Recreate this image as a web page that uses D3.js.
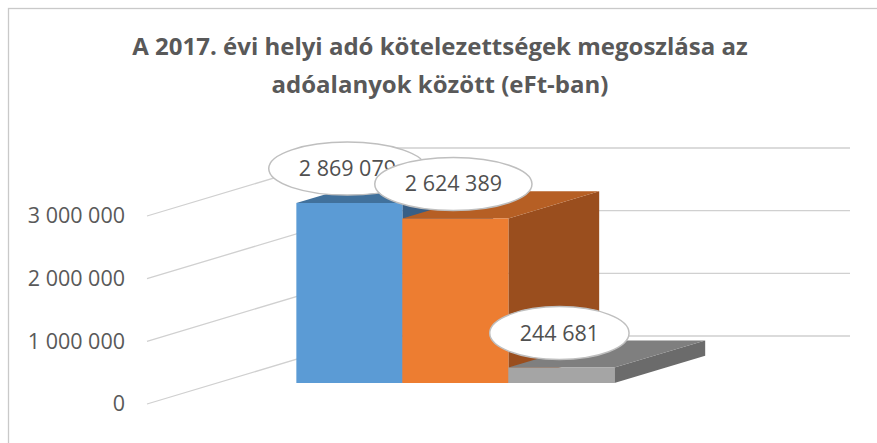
<!DOCTYPE html>
<html>
<head>
<meta charset="utf-8">
<script src="https://cdn.jsdelivr.net/npm/d3@7"></script>
<style>
  html, body { margin: 0; padding: 0; background: #fff; }
  svg { display: block; font-family: 'Open Sans', 'Noto Sans', sans-serif; }
</style>
</head>
<body>
<svg id="chart" width="877" height="443"></svg>
<script>
const titleLines = ['A 2017. évi helyi adó kötelezettségek megoszlása az', 'adóalanyok között (eFt-ban)']
const seriesNames = ['Sorozat1', 'Sorozat2', 'Sorozat3']
const seriesValues = [2869079, 2624389, 244681]
const tickValues = [0, 1000000, 2000000, 3000000]
const frontColors = ['#5B9BD5', '#ED7D31', '#A5A5A5']
const topColors = ['#41719C', '#B65F24', '#7F7F7F']
const sideColors = ['#385F86', '#9A4E1E', '#6B6B6B']

const svg = d3.select('#chart')
const width = 877
const height = 443

// oblique 3d: floor front-left corner, plot width, depth vector
const floor = {x: 147, y: 404}
const plotWidth = 476
const depth = {dx: 227, dy: -68}
const barDepth = [0.31, 0.71]

const hu = d3.formatLocale({decimal: ',', thousands: ' ', grouping: [3], currency: ['', '']})
const fmt = hu.format(',d')

const v = d3.scaleLinear().domain([0, 3000000]).range([0, 188])
const yFront = d3.scaleLinear().domain([0, 3000000]).range([floor.y, floor.y - 188])
const x = d3.scaleBand()
  .domain(seriesNames)
  .range([0, plotWidth])
  .paddingInner(0)
  .paddingOuter(0.745)

const proj = (xw, val, d) => [floor.x + xw + d * depth.dx, floor.y - v(val) + d * depth.dy]

svg.append('rect')
  .attr('width', width)
  .attr('height', height)
  .attr('fill', '#fff')

svg.append('rect')
  .attr('x', 8.5)
  .attr('y', 8.5)
  .attr('width', 950)
  .attr('height', 600)
  .attr('fill', 'none')
  .attr('stroke', '#c9c9c9')
  .attr('stroke-width', 1.3)

// title
svg.append('g')
  .selectAll('text')
  .data(titleLines)
  .enter()
  .append('text')
  .attr('x', 440)
  .attr('y', (d, i) => 55 + i * 38)
  .attr('text-anchor', 'middle')
  .attr('font-size', '24px')
  .attr('font-weight', 'bold')
  .attr('fill', '#595959')
  .text((d) => d)

// gridlines: side wall then back wall
const line = d3.line()
svg.append('g')
  .selectAll('path')
  .data(tickValues)
  .enter()
  .append('path')
  .attr('d', (t) => line([proj(0, t, 0), proj(0, t, 1), proj(plotWidth, t, 1)]))
  .attr('fill', 'none')
  .attr('stroke', '#d0d0d0')
  .attr('stroke-width', 1.3)

// value axis labels
const axis = svg.append('g')
  .attr('transform', 'translate(125, 0)')
  .call(d3.axisLeft(yFront).tickValues(tickValues).tickSize(0).tickPadding(0).tickFormat(fmt))
axis.select('.domain').remove()
axis.selectAll('text')
  .attr('font-family', "'Open Sans', 'Noto Sans', sans-serif")
  .attr('font-size', '21.5px')
  .attr('fill', '#595959')

// bars
const bars = seriesNames.map((name, i) => ({name, value: seriesValues[i], i}))
const poly = (pts) => 'M' + pts.map((p) => p.join(',')).join('L') + 'Z'
const barG = svg.append('g')
  .selectAll('g')
  .data(bars)
  .enter()
  .append('g')

barG.append('path')
  .attr('d', (d) => {
    const x1 = x(d.name) + x.bandwidth()
    return poly([proj(x1, 0, barDepth[0]), proj(x1, d.value, barDepth[0]), proj(x1, d.value, barDepth[1]), proj(x1, 0, barDepth[1])])
  })
  .attr('fill', (d) => sideColors[d.i])

barG.append('path')
  .attr('d', (d) => {
    const x0 = x(d.name)
    const x1 = x0 + x.bandwidth()
    return poly([proj(x0, d.value, barDepth[0]), proj(x1, d.value, barDepth[0]), proj(x1, d.value, barDepth[1]), proj(x0, d.value, barDepth[1])])
  })
  .attr('fill', (d) => topColors[d.i])

barG.append('path')
  .attr('d', (d) => {
    const x0 = x(d.name)
    const x1 = x0 + x.bandwidth()
    return poly([proj(x0, 0, barDepth[0]), proj(x1, 0, barDepth[0]), proj(x1, d.value, barDepth[0]), proj(x0, d.value, barDepth[0])])
  })
  .attr('fill', (d) => frontColors[d.i])

// data labels in ovals
const labelG = svg.append('g')
  .selectAll('g')
  .data(bars)
  .enter()
  .append('g')
  .attr('transform', (d) => {
    const p = proj(x(d.name) + x.bandwidth() / 2, d.value, barDepth[0])
    return `translate(${p[0] - 2}, ${p[1] - 34.5})`
  })

labelG.append('ellipse')
  .attr('fill', '#fff')
  .attr('stroke', '#bfbfbf')
  .attr('stroke-width', 1.5)
  .attr('ry', 26.5)

labelG.append('text')
  .attr('text-anchor', 'middle')
  .attr('dy', '0.35em')
  .attr('font-size', '21.5px')
  .attr('fill', '#505050')
  .text((d) => fmt(d.value))

labelG.each(function() {
  const g = d3.select(this)
  const w = g.select('text').node().getComputedTextLength()
  g.select('ellipse').attr('rx', w / 2 + 30)
})
</script>
</body>
</html>
